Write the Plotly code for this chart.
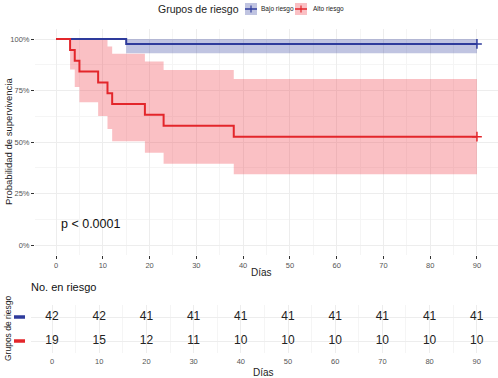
import plotly.graph_objects as go

# ---------------- data ----------------
groups = ["Bajo riesgo", "Alto riesgo"]

bajo_time = [0, 15, 90]
bajo_surv = [1.0, 0.976, 0.976]
bajo_upper = [1.0, 1.0, 1.0]
bajo_lower = [1.0, 0.931, 0.931]

alto_time = [0, 3, 4, 5, 9, 11, 12, 19, 23, 38, 90]
alto_surv = [1.0, 0.947, 0.895, 0.842, 0.789, 0.737, 0.684, 0.632, 0.579, 0.526, 0.526]
alto_upper = [1.0, 1.0, 1.0, 1.0, 0.995, 0.964, 0.928, 0.891, 0.849, 0.806, 0.806]
alto_lower = [1.0, 0.852, 0.767, 0.693, 0.626, 0.563, 0.504, 0.448, 0.395, 0.343, 0.343]

risk_days = [0, 10, 20, 30, 40, 50, 60, 70, 80, 90]
bajo_at_risk = [42, 42, 41, 41, 41, 41, 41, 41, 41, 41]
alto_at_risk = [19, 15, 12, 11, 10, 10, 10, 10, 10, 10]

y_ticks = [0, 0.25, 0.5, 0.75, 1.0]
y_ticklabels = ["0%", "25%", "50%", "75%", "100%"]
x_ticks = [0, 10, 20, 30, 40, 50, 60, 70, 80, 90]

p_text = "p < 0.0001"

# ---------------- style ----------------
BLUE = "#2E3B9C"
RED = "#E3262B"
BLUE_FILL = "rgba(46,59,156,0.30)"
RED_FILL = "rgba(240,60,70,0.32)"
FONT = "Liberation Sans, Arial, sans-serif"
GRID = "#EDEDED"
TICKC = "#555555"

W, H = 498, 378
px = lambda v: v / W
py = lambda v: 1 - v / H

fig = go.Figure()

def band(t, lo, hi, fillc):
    fig.add_trace(go.Scatter(x=t, y=lo, mode="lines", line=dict(width=0, shape="hv"),
                             showlegend=False, hoverinfo="skip", xaxis="x", yaxis="y"))
    fig.add_trace(go.Scatter(x=t, y=hi, mode="lines", line=dict(width=0, shape="hv"),
                             fill="tonexty", fillcolor=fillc, showlegend=False,
                             hoverinfo="skip", xaxis="x", yaxis="y"))

band(alto_time, alto_lower, alto_upper, RED_FILL)
band(bajo_time, bajo_lower, bajo_upper, BLUE_FILL)

fig.add_trace(go.Scatter(x=bajo_time, y=bajo_surv, mode="lines", name=groups[0], showlegend=False,
                         line=dict(color=BLUE, width=2, shape="hv"), xaxis="x", yaxis="y"))
fig.add_trace(go.Scatter(x=alto_time, y=alto_surv, mode="lines", name=groups[1], showlegend=False,
                         line=dict(color=RED, width=2, shape="hv"), xaxis="x", yaxis="y"))
# censor marks
fig.add_trace(go.Scatter(x=[bajo_time[-1]], y=[bajo_surv[-1]], mode="markers", showlegend=False,
                         marker=dict(symbol="cross-thin", size=7, line=dict(color=BLUE, width=1.5)),
                         xaxis="x", yaxis="y"))
fig.add_trace(go.Scatter(x=[alto_time[-1]], y=[alto_surv[-1]], mode="markers", showlegend=False,
                         marker=dict(symbol="cross-thin", size=7, line=dict(color=RED, width=1.5)),
                         xaxis="x", yaxis="y"))

# risk table
fig.add_trace(go.Scatter(x=risk_days, y=[2] * len(risk_days), mode="text",
                         text=[str(v) for v in bajo_at_risk], showlegend=False,
                         textfont=dict(size=12, color="#222222", family=FONT),
                         xaxis="x2", yaxis="y2"))
fig.add_trace(go.Scatter(x=risk_days, y=[1] * len(risk_days), mode="text",
                         text=[str(v) for v in alto_at_risk], showlegend=False,
                         textfont=dict(size=12, color="#222222", family=FONT),
                         xaxis="x2", yaxis="y2"))

main_bottom = py(255.3)
main_top = py(28.7)
tab_bottom = py(353)
tab_top = py(305)

# legend drawn manually (ggplot-style keys)
legend_shapes = []
for (x0, fillc, linec) in [(245, BLUE_FILL, BLUE), (295, RED_FILL, RED)]:
    legend_shapes.append(dict(type="rect", xref="paper", yref="paper", x0=px(x0), x1=px(x0 + 12),
                              y0=py(15), y1=py(3), fillcolor=fillc, line=dict(width=0)))
    legend_shapes.append(dict(type="line", xref="paper", yref="paper", x0=px(x0), x1=px(x0 + 12),
                              y0=py(9), y1=py(9), line=dict(color=linec, width=1.5)))
    legend_shapes.append(dict(type="line", xref="paper", yref="paper", x0=px(x0 + 6), x1=px(x0 + 6),
                              y0=py(5.5), y1=py(12.5), line=dict(color=linec, width=1.2)))

fig.update_layout(
    width=W, height=H,
    margin=dict(l=0, r=0, t=0, b=0),
    paper_bgcolor="white", plot_bgcolor="white",
    font=dict(family=FONT, color="#222222"),
    showlegend=False,
    xaxis=dict(domain=[px(35), 1.0], range=[-4.5, 94.5], tickvals=x_ticks, automargin=False,
               ticks="outside", ticklen=3, tickcolor="#333333", tickwidth=1,
               tickfont=dict(size=7.5, color=TICKC), showline=False, zeroline=False,
               showgrid=True, gridcolor=GRID, gridwidth=1,
               minor=dict(showgrid=True, gridcolor="#F5F5F5", dtick=5, tick0=0),
               anchor="y"),
    yaxis=dict(domain=[main_bottom, main_top], range=[-0.05, 1.05], tickvals=y_ticks,
               ticktext=y_ticklabels, ticks="outside", ticklen=3, tickcolor="#333333",
               automargin=False,
               tickfont=dict(size=7.5, color=TICKC), showline=False, zeroline=False,
               showgrid=True, gridcolor=GRID,
               minor=dict(showgrid=True, gridcolor="#F5F5F5", dtick=0.125, tick0=0),
               anchor="x"),
    xaxis2=dict(domain=[px(30.8), 1.0], range=[-4.5, 94.5], tickvals=x_ticks, automargin=False,
                ticks="", ticklabelstandoff=2,
                tickfont=dict(size=7.5, color=TICKC), showline=False, zeroline=False,
                showgrid=True, gridcolor=GRID,
                minor=dict(showgrid=True, gridcolor="#F5F5F5", dtick=5, tick0=0),
                anchor="y2"),
    yaxis2=dict(domain=[tab_bottom, tab_top], range=[0.5, 2.5], tickvals=[1, 2], automargin=False,
                showticklabels=False, ticks="", showline=False, zeroline=False,
                showgrid=True, gridcolor=GRID, anchor="x2"),
    annotations=[
        dict(text="Grupos de riesgo", xref="paper", yref="paper", x=px(198.5), y=py(9),
             showarrow=False, xanchor="center", yanchor="middle",
             font=dict(size=10.5, color="#222222")),
        dict(text=groups[0], xref="paper", yref="paper", x=px(259), y=py(9),
             showarrow=False, xanchor="left", yanchor="middle", font=dict(size=6.5, color="#222222")),
        dict(text=groups[1], xref="paper", yref="paper", x=px(311), y=py(9),
             showarrow=False, xanchor="left", yanchor="middle", font=dict(size=6.5, color="#222222")),
        dict(text="Probabilidad de supervivencia", textangle=-90, xref="paper", yref="paper",
             x=px(8), y=(main_bottom + main_top) / 2, showarrow=False,
             font=dict(size=9.5, color="#222222"), xanchor="center", yanchor="middle"),
        dict(text="Días", xref="paper", yref="paper", x=px(261), y=py(272.5), showarrow=False,
             xanchor="center", yanchor="middle", font=dict(size=10, color="#222222")),
        dict(text="Grupos de riesgo", textangle=-90, xref="paper", yref="paper",
             x=px(8), y=(tab_bottom + tab_top) / 2, showarrow=False,
             font=dict(size=8.5, color="#222222"), xanchor="center", yanchor="middle"),
        dict(text="Días", xref="paper", yref="paper", x=px(263), y=py(372), showarrow=False,
             xanchor="center", yanchor="middle", font=dict(size=10, color="#222222")),
        dict(text=p_text, xref="x", yref="y", x=0.7, y=0.1, showarrow=False,
             xanchor="left", yanchor="middle", font=dict(size=12.5, color="#111111")),
        dict(text="No. en riesgo", xref="paper", yref="paper", x=px(29), y=py(287),
             showarrow=False, xanchor="left", yanchor="middle",
             font=dict(size=11, color="#111111")),
    ],
    shapes=legend_shapes + [
        dict(type="line", xref="paper", yref="y2", x0=px(14), x1=px(25), y0=2, y1=2,
             line=dict(color=BLUE, width=3.5)),
        dict(type="line", xref="paper", yref="y2", x0=px(14), x1=px(25), y0=1, y1=1,
             line=dict(color=RED, width=3.5)),
    ],
)

fig.write_html("out.html", config={"displayModeBar": False},
               post_script="document.body.style.margin='0px';document.body.style.padding='0px';")
